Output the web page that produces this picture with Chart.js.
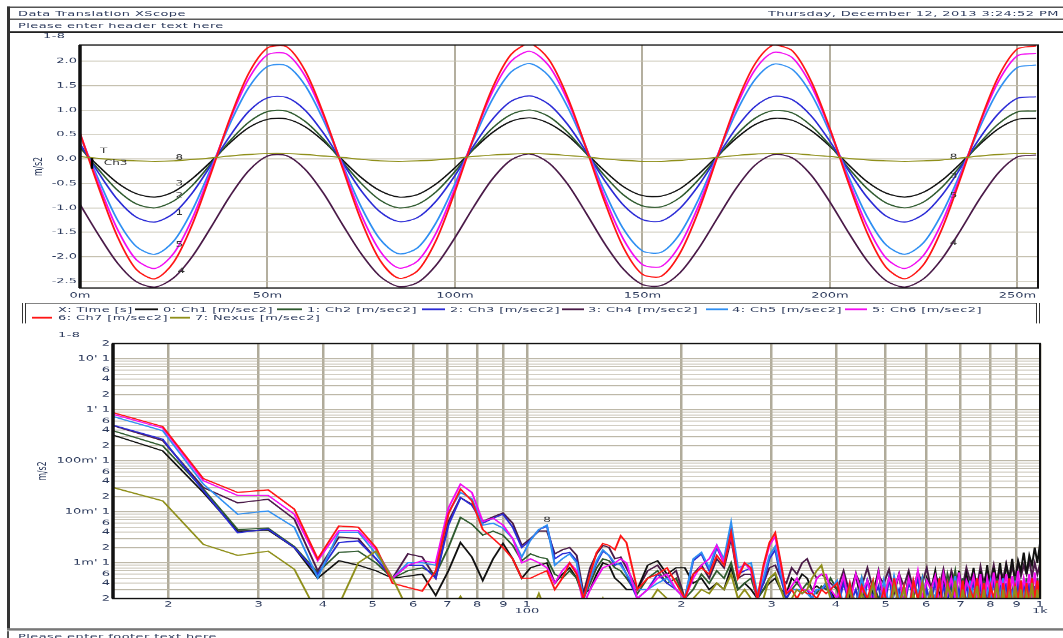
<!DOCTYPE html>
<html><head><meta charset="utf-8">
<script src="https://cdn.jsdelivr.net/npm/chart.js@4.4.0/dist/chart.umd.min.js"></script>
<style>
html,body{margin:0;padding:0;background:#fff;overflow:hidden;width:1063px;height:638px;}
#page{position:absolute;left:0;top:0;width:1063px;height:1064px;transform:scaleY(0.6);transform-origin:0 0;font-family:"DejaVu Sans",sans-serif;font-size:13px;color:#2c3a5c;}
.t{position:absolute;white-space:nowrap;line-height:16px;letter-spacing:0.4px;}
.hl{position:absolute;left:7px;right:0;height:0;}
canvas{position:absolute;left:0;}
.lg{position:absolute;height:0;border-top:3px solid;}
</style></head>
<body><div id="page">
<div class="hl" style="top:11px;border-top:2px solid #2a2a2a"></div>
<div class="t" style="left:18px;top:15px">Data Translation XScope</div>
<div class="t" style="left:768px;top:15px">Thursday, December 12, 2013 3:24:52 PM</div>
<div class="hl" style="top:31px;border-top:2px solid #333"></div>
<div class="t" style="left:18px;top:34.5px">Please enter header text here</div>
<div class="hl" style="top:52px;border-top:3px solid #222"></div>
<div style="position:absolute;left:7px;top:11px;height:1037px;border-left:3px solid #333"></div>
<div class="t" style="left:43px;top:51px">1-8</div>
<canvas id="topChart" width="1063" height="460" style="top:56px"></canvas>
<div style="position:absolute;left:22px;top:505px;width:1018px;height:34px;box-sizing:border-box;border:1px solid #333;border-left:4px double #333;border-right:4px double #333"></div>
<div class="t" style="left:58px;top:507.5px">X: Time [s]</div>
<div class="lg" style="left:135px;top:514px;width:23px;border-color:#111111"></div>
<div class="t" style="left:163px;top:507.5px">0: Ch1 [m/sec2]</div>
<div class="lg" style="left:277px;top:514px;width:25px;border-color:#2e5a2e"></div>
<div class="t" style="left:307px;top:507.5px">1: Ch2 [m/sec2]</div>
<div class="lg" style="left:422px;top:514px;width:23px;border-color:#2b2bd6"></div>
<div class="t" style="left:450px;top:507.5px">2: Ch3 [m/sec2]</div>
<div class="lg" style="left:562px;top:514px;width:22px;border-color:#4a1a48"></div>
<div class="t" style="left:588px;top:507.5px">3: Ch4 [m/sec2]</div>
<div class="lg" style="left:706px;top:514px;width:22px;border-color:#2f8ff2"></div>
<div class="t" style="left:732px;top:507.5px">4: Ch5 [m/sec2]</div>
<div class="lg" style="left:845px;top:514px;width:22px;border-color:#f20cf2"></div>
<div class="t" style="left:872px;top:507.5px">5: Ch6 [m/sec2]</div>
<div class="lg" style="left:32px;top:528px;width:20px;border-color:#ff1515"></div>
<div class="t" style="left:58px;top:521.5px">6: Ch7 [m/sec2]</div>
<div class="lg" style="left:170px;top:528px;width:20px;border-color:#8f8f1a"></div>
<div class="t" style="left:195px;top:521.5px">7: Nexus [m/sec2]</div>
<div class="t" style="left:58px;top:550px">1-8</div>
<canvas id="specChart" width="1063" height="495" style="top:545px"></canvas>
<div class="hl" style="top:1047px;border-top:4px solid #777"></div>
<div style="position:absolute;left:7px;top:1052px;height:14px;border-left:2px solid #555"></div>
<div class="t" style="left:18px;top:1053px">Please enter footer text here</div>
</div>
<script>
// ---------- Time-domain data (ms, m/s2) ----------
const timeMs = [0,5,10,15,20,25,30,35,40,45,50,55,60,65,70,75,80,85,90,95,100,105,110,115,120,125,130,135,140,145,150,155,160,165,170,175,180,185,190,195,200,205,210,215,220,225,230,235,240,245,250,255];
const tCh1 = [0.23,-0.15,-0.49,-0.71,-0.78,-0.67,-0.40,-0.05,0.33,0.64,0.81,0.82,0.66,0.36,-0.02,-0.38,-0.65,-0.78,-0.73,-0.51,-0.18,0.20,0.54,0.77,0.84,0.73,0.48,0.12,-0.25,-0.57,-0.75,-0.76,-0.61,-0.31,0.06,0.42,0.70,0.83,0.79,0.58,0.26,-0.12,-0.47,-0.70,-0.78,-0.68,-0.43,-0.08,0.30,0.62,0.81,0.83];
const tCh2 = [0.24,-0.22,-0.64,-0.92,-1.00,-0.86,-0.54,-0.09,0.37,0.75,0.97,0.98,0.77,0.40,-0.06,-0.50,-0.84,-1.00,-0.93,-0.67,-0.26,0.21,0.63,0.91,1.00,0.87,0.55,0.11,-0.35,-0.74,-0.96,-0.98,-0.79,-0.42,0.04,0.49,0.83,0.99,0.94,0.68,0.28,-0.19,-0.61,-0.90,-1.00,-0.88,-0.57,-0.13,0.33,0.72,0.96,0.98];
const tCh3 = [0.31,-0.29,-0.83,-1.19,-1.29,-1.11,-0.69,-0.12,0.47,0.97,1.25,1.26,1.00,0.52,-0.07,-0.65,-1.08,-1.28,-1.20,-0.86,-0.34,0.27,0.81,1.18,1.29,1.12,0.71,0.15,-0.45,-0.95,-1.24,-1.27,-1.01,-0.54,0.05,0.63,1.07,1.28,1.21,0.88,0.36,-0.24,-0.79,-1.17,-1.29,-1.13,-0.73,-0.17,0.43,0.93,1.24,1.27];
const tCh4 = [-0.93,-1.56,-2.13,-2.51,-2.62,-2.43,-1.99,-1.39,-0.76,-0.24,0.06,0.07,-0.21,-0.71,-1.34,-1.94,-2.40,-2.61,-2.53,-2.17,-1.61,-0.98,-0.41,-0.02,0.10,-0.08,-0.51,-1.11,-1.74,-2.26,-2.57,-2.59,-2.33,-1.83,-1.21,-0.60,-0.13,0.09,0.02,-0.33,-0.88,-1.51,-2.09,-2.49,-2.62,-2.45,-2.03,-1.44,-0.81,-0.28,0.04,0.08];
const tCh5 = [0.47,-0.43,-1.25,-1.79,-1.95,-1.68,-1.04,-0.18,0.72,1.46,1.89,1.91,1.51,0.78,-0.11,-0.98,-1.64,-1.94,-1.82,-1.30,-0.51,0.40,1.22,1.78,1.95,1.70,1.07,0.22,-0.68,-1.44,-1.88,-1.91,-1.53,-0.82,0.07,0.95,1.62,1.94,1.83,1.33,0.54,-0.36,-1.19,-1.76,-1.95,-1.71,-1.10,-0.26,0.65,1.41,1.87,1.92];
const tCh6 = [0.52,-0.52,-1.44,-2.06,-2.24,-1.93,-1.21,-0.23,0.80,1.64,2.13,2.15,1.70,0.87,-0.14,-1.14,-1.88,-2.23,-2.09,-1.51,-0.60,0.44,1.37,2.00,2.20,1.91,1.20,0.23,-0.80,-1.65,-2.16,-2.20,-1.76,-0.95,0.06,1.06,1.82,2.18,2.07,1.50,0.60,-0.44,-1.38,-2.03,-2.24,-1.97,-1.28,-0.31,0.72,1.59,2.11,2.16];
const tCh7 = [0.53,-0.59,-1.59,-2.26,-2.45,-2.11,-1.33,-0.28,0.83,1.75,2.27,2.30,1.81,0.91,-0.18,-1.26,-2.07,-2.44,-2.29,-1.66,-0.67,0.44,1.45,2.14,2.35,2.04,1.27,0.22,-0.89,-1.82,-2.36,-2.40,-1.93,-1.06,0.04,1.12,1.94,2.33,2.21,1.59,0.62,-0.50,-1.52,-2.22,-2.45,-2.16,-1.41,-0.36,0.75,1.69,2.25,2.31];
const tNexus = [0.05,0.01,-0.02,-0.04,-0.05,-0.04,-0.01,0.02,0.06,0.09,0.11,0.11,0.09,0.06,0.03,-0.01,-0.04,-0.05,-0.04,-0.02,0.01,0.05,0.08,0.10,0.11,0.10,0.07,0.04,0.00,-0.03,-0.05,-0.05,-0.03,0.00,0.03,0.07,0.10,0.11,0.11,0.08,0.05,0.01,-0.02,-0.04,-0.05,-0.04,-0.02,0.02,0.06,0.09,0.11,0.11];
const timeTicks = [0,50,100,150,200,250];
const ampTicks = [-2.5,-2,-1.5,-1,-0.5,0,0.5,1,1.5,2];

// ---------- Spectrum data (Hz, milli m/s2) ----------
const freqHz = [15.6,19.5,23.4,27.3,31.3,35.2,39.1,43.0,46.9,50.8,54.7,58.6,62.5,66.4,70.3,74.2,78.1,82.0,85.9,89.8,93.8,97.7,101.6,105.5,109.4,113.3,117.2,121.1,125.0,128.9,132.8,136.7,140.6,144.5,148.4,152.3,156.3,
164.1,171.9,179.7,187.5,195.3,203.1,210.9,218.8,226.6,234.4,242.2,250.0,257.8,265.6,273.4,281.3,289.1,296.9,304.7,312.5,320.3,328.1,335.9,343.8,351.6,359.4,367.2,375.0,382.8,390.6,
402.3,414.1,425.8,437.5,449.2,460.9,472.7,484.4,496.1,507.8,519.5,531.3,543.0,554.7,566.4,578.1,589.8,601.6,613.3,625.0,636.7,648.4,660.2,671.9,683.6,695.3,707.0,718.8,730.5,742.2,753.9,765.6,777.3,789.1,800.8,812.5,824.2,835.9,847.7,859.4,871.1,882.8,894.5,906.3,918.0,929.7,941.4,953.1,964.8,976.6,988.3,1000.0];
const sCh1 = [320,157,24,4.2,4.4,2.0,0.5,1.1,0.9,0.7,0.5,0.55,0.6,0.23,0.7,2.5,1.3,0.45,1.2,2.4,1.2,0.5,0.8,0.9,1.0,0.4,0.6,0.8,0.5,0.25,0.3,0.6,1.0,0.9,0.5,0.4,0.3,
0.3,0.9,1.1,0.6,0.8,0.8,0.4,0.5,0.3,0.4,0.3,0.8,0.3,0.4,0.3,0.2,0.3,0.4,0.5,0.3,0.25,0.5,0.4,0.6,0.5,0.3,0.35,0.3,0.4,0.3,
0.15,0.5,0.2,0.6,0.15,0.45,0.25,0.7,0.15,0.5,0.3,0.6,0.15,0.55,0.2,0.65,0.15,0.5,0.3,0.7,0.2,0.55,0.15,0.6,0.25,0.7,0.2,0.6,0.3,0.8,0.2,0.7,0.3,0.9,0.25,0.8,0.4,1.0,0.3,0.9,0.5,1.2,0.4,1.1,0.7,1.6,0.6,1.4,0.9,2.0,1.0,2.4];
const sCh2 = [390,197,28,4.5,4.8,2.1,0.65,1.6,1.7,1.0,0.5,0.7,0.8,0.6,2.0,7.8,5.7,3.5,4.2,3.5,2.2,1.1,1.5,1.3,1.2,0.6,0.5,0.7,0.5,0.2,0.4,0.8,1.2,1.1,0.8,0.7,0.5,
0.25,0.5,0.7,0.4,0.5,0.2,0.3,0.6,0.4,0.7,0.5,1.0,0.3,0.4,0.5,0.2,0.3,0.5,0.6,0.3,0.2,0.3,0.4,0.3,0.4,0.3,0.25,0.35,0.3,0.5,
0.3,0.1,0.35,0.15,0.5,0.12,0.4,0.2,0.3,0.1,0.45,0.15,0.35,0.1,0.4,0.2,0.5,0.12,0.3,0.2,0.45,0.15,0.6,0.3,0.7,0.2,0.5,0.15,0.4,0.1,0.35,0.2,0.45,0.15,0.4,0.1,0.5,0.2,0.4,0.15,0.35,0.25,0.55,0.15,0.45,0.2,0.5,0.15,0.4,0.25,0.5,0.2];
const sCh3 = [500,266,26,3.9,4.6,2.0,0.6,2.5,2.7,1.2,0.5,0.9,0.9,0.5,5.5,19,13.5,6.0,7.5,9.0,5.0,2.0,2.8,4.5,5.2,1.2,1.5,1.6,1.1,0.2,0.5,1.0,1.7,1.4,0.9,1.0,0.6,
0.2,0.3,0.6,0.4,0.3,0.2,1.1,1.5,0.7,2.0,1.0,5.0,0.6,0.7,0.8,0.2,0.4,1.2,1.8,0.5,0.2,0.3,0.3,0.25,0.3,0.2,0.3,0.3,0.35,0.25,
0.12,0.4,0.15,0.3,0.1,0.45,0.2,0.35,0.1,0.5,0.15,0.3,0.12,0.4,0.25,0.5,0.1,0.3,0.15,0.45,0.1,0.35,0.2,0.5,0.12,0.3,0.15,0.4,0.1,0.45,0.2,0.35,0.1,0.3,0.15,0.5,0.12,0.35,0.2,0.4,0.1,0.3,0.15,0.45,0.12,0.35,0.2,0.4,0.1,0.35,0.15,0.3];
const sCh4 = [490,250,30,15,17.7,7.2,0.7,3.2,3.0,1.2,0.5,1.5,1.3,0.5,6.5,19,14,6.5,8.0,9.5,6.0,2.2,3.0,4.2,4.2,1.5,1.8,2.0,1.4,0.25,0.8,1.5,2.2,2.0,1.2,1.3,0.8,
0.3,0.7,0.9,0.5,0.7,0.2,0.6,0.9,0.5,1.2,0.8,3.0,0.5,0.6,0.6,0.25,0.4,0.8,0.9,0.5,0.4,0.8,0.6,1.0,1.2,0.7,0.5,0.6,0.5,0.4,
0.3,0.7,0.25,0.6,0.35,0.8,0.3,0.55,0.4,0.75,0.25,0.6,0.35,0.7,0.3,0.65,0.4,0.8,0.3,0.6,0.35,0.75,0.3,0.7,0.4,0.6,0.35,0.8,0.45,0.7,0.35,0.85,0.4,0.7,0.45,0.9,0.4,0.75,0.5,0.95,0.45,0.85,0.5,1.0,0.55,0.9,0.6,1.1,0.55,1.0,0.6,0.95];
const sCh5 = [740,390,35,9.0,10.4,5.0,0.51,4.0,4.0,1.5,0.5,1.0,1.0,0.9,10,24,18,5.5,6.0,4.8,3.0,1.3,2.8,4.5,5.5,0.9,1.2,1.5,1.0,0.2,0.5,1.1,1.8,1.4,1.0,0.9,0.6,
0.3,0.3,0.4,0.5,0.3,0.2,1.2,1.6,0.8,2.2,1.2,6.2,0.8,0.9,1.0,0.25,0.5,1.4,2.1,0.6,0.25,0.3,0.3,0.3,0.25,0.2,0.3,0.3,0.4,0.3,
0.45,0.15,0.4,0.12,0.5,0.2,0.35,0.1,0.45,0.15,0.55,0.2,0.35,0.12,0.45,0.25,0.5,0.15,0.3,0.2,0.5,0.12,0.4,0.2,0.55,0.15,0.35,0.1,0.45,0.2,0.5,0.15,0.35,0.25,0.45,0.12,0.4,0.2,0.5,0.15,0.35,0.2,0.45,0.12,0.4,0.2,0.35,0.15,0.45,0.2,0.4,0.15];
const sCh6 = [820,440,41,21,21,9.0,1.1,4.3,4.3,1.8,0.5,0.9,1.1,1.0,12,35,24,6.5,7.5,5.5,3.0,1.0,1.2,1.0,0.8,0.4,0.7,1.0,0.7,0.15,0.3,0.5,0.8,0.9,1.0,1.2,1.0,
0.2,0.3,0.5,0.6,0.3,0.2,0.5,0.9,1.2,2.2,1.0,3.5,0.6,1.0,0.7,0.2,0.8,2.2,3.3,0.9,0.25,0.35,0.5,0.3,0.3,0.25,0.5,0.6,0.6,0.3,
0.2,0.55,0.15,0.6,0.25,0.45,0.15,0.65,0.2,0.5,0.3,0.6,0.15,0.5,0.25,0.7,0.2,0.45,0.3,0.55,0.15,0.6,0.25,0.5,0.2,0.65,0.15,0.45,0.3,0.55,0.2,0.6,0.15,0.5,0.25,0.65,0.2,0.5,0.3,0.6,0.2,0.55,0.25,0.7,0.2,0.5,0.3,0.6,0.2,0.65,0.25,0.5];
const sCh7 = [885,470,45,24,27,11.3,1.2,5.3,5.0,2.0,0.4,0.33,0.28,0.7,9.1,28,16.4,4.5,3.0,2.0,1.2,0.5,0.5,0.6,0.7,0.3,0.5,1.0,0.6,0.2,0.6,1.6,2.4,2.2,1.8,3.4,2.5,
0.3,0.5,0.6,0.8,0.4,0.2,0.6,0.8,0.6,1.4,0.9,3.9,0.5,1.0,0.8,0.2,0.9,2.5,3.9,1.0,0.25,0.3,0.2,0.3,0.25,0.25,0.2,0.3,0.25,0.3,
0.4,0.12,0.4,0.1,0.35,0.2,0.45,0.12,0.3,0.1,0.5,0.15,0.35,0.1,0.45,0.2,0.4,0.1,0.3,0.15,0.5,0.1,0.4,0.2,0.35,0.12,0.45,0.1,0.3,0.2,0.5,0.15,0.4,0.1,0.35,0.2,0.45,0.12,0.4,0.15,0.5,0.1,0.35,0.2,0.45,0.12,0.4,0.15,0.5,0.2,0.45,0.15];
const sNexus = [30,16.4,2.3,1.4,1.7,0.75,0.1,0.15,1.0,1.7,0.5,0.12,0.1,0.1,0.1,0.22,0.1,0.1,0.1,0.1,0.1,0.1,0.1,0.25,0.1,0.1,0.1,0.1,0.1,0.1,0.1,0.1,0.2,0.1,0.1,0.1,0.1,
0.1,0.15,0.3,0.2,0.15,0.1,0.2,0.3,0.25,0.4,0.3,0.6,0.2,0.3,0.2,0.1,0.2,0.5,0.64,0.3,0.15,0.2,0.3,0.25,0.3,0.5,0.7,0.9,0.4,0.2,
0.2,0.1,0.3,0.1,0.25,0.15,0.4,0.1,0.2,0.1,0.35,0.15,0.3,0.1,0.25,0.1,0.4,0.15,0.3,0.1,0.2,0.1,0.35,0.2,0.45,0.1,0.3,0.1,0.25,0.15,0.35,0.1,0.3,0.1,0.2,0.15,0.4,0.1,0.3,0.1,0.25,0.15,0.35,0.1,0.3,0.1,0.25,0.15,0.4,0.1,0.3,0.1];
const specXTicks = [20,30,40,50,60,70,80,90,100,200,300,400,500,600,700,800,900,1000];
const specXTickLabels = ['2','3','4','5','6','7','8','9',['1','100'],'2','3','4','5','6','7','8','9',['1','1k']];
const specYTicks = [0.0002,0.0003,0.0004,0.0005,0.0006,0.0007,0.0008,0.0009,0.001,0.002,0.003,0.004,0.005,0.006,0.007,0.008,0.009,0.01,0.02,0.03,0.04,0.05,0.06,0.07,0.08,0.09,0.1,0.2,0.3,0.4,0.5,0.6,0.7,0.8,0.9,1,2,3,4,5,6,7,8,9,10,20];
const specYLabelMap = {"20":"2","10":"10' 1","6":"6","4":"4","2":"2","1":"1' 1","0.6":"6","0.4":"4","0.2":"2","0.1":"100m' 1","0.06":"6","0.04":"4","0.02":"2","0.01":"10m' 1","0.006":"6","0.004":"4","0.002":"2","0.001":"1m' 1","0.0006":"6","0.0004":"4","0.0002":"2"};

const seriesNames = ['0: Ch1','1: Ch2','2: Ch3','3: Ch4','4: Ch5','5: Ch6','6: Ch7','7: Nexus'];
const seriesColors = ['#111111','#2e5a2e','#2b2bd6','#4a1a48','#2f8ff2','#f20cf2','#ff1515','#8f8f1a'];
const seriesOrder = [6,5,4,7,3,2,1,0];
const timeSeries = [tCh1,tCh2,tCh3,tCh4,tCh5,tCh6,tCh7,tNexus];
const specSeries = [sCh1,sCh2,sCh3,sCh4,sCh5,sCh6,sCh7,sNexus];

Chart.defaults.font.family = '"DejaVu Sans", sans-serif';
Chart.defaults.font.size = 13;
Chart.defaults.color = '#2c3a5c';

const framePlugin = {
  id: 'frame',
  afterDatasetsDraw(chart, args, opts) {
    const {ctx, chartArea: a} = chart;
    ctx.save();
    ctx.strokeStyle = '#111';
    ctx.lineWidth = 2;
    ctx.strokeRect(a.left, a.top, a.right - a.left, a.bottom - a.top);
    ctx.lineWidth = 3.5;
    ctx.beginPath(); ctx.moveTo(a.left, a.top); ctx.lineTo(a.left, a.bottom); ctx.stroke();
    const xs = chart.scales.x, ys = chart.scales.y;
    ctx.fillStyle = '#333';
    ctx.font = '12px "DejaVu Sans"';
    ctx.textAlign = 'center';
    ctx.textBaseline = 'middle';
    (opts.notes || []).forEach(n => ctx.fillText(n.text, xs.getPixelForValue(n.x), ys.getPixelForValue(n.y)));
    (opts.marks || []).forEach(m => {
      ctx.strokeStyle = '#000'; ctx.lineWidth = 2.5;
      ctx.beginPath();
      ctx.moveTo(xs.getPixelForValue(m.x), ys.getPixelForValue(m.y1));
      ctx.lineTo(xs.getPixelForValue(m.x), ys.getPixelForValue(m.y2));
      ctx.stroke();
    });
    ctx.restore();
  }
};

new Chart(document.getElementById('topChart'), {
  type: 'line',
  data: {
    datasets: timeSeries.map((arr, s) => ({
      label: seriesNames[s],
      data: arr.map((v, i) => ({x: timeMs[i], y: v})),
      borderColor: seriesColors[s],
      order: seriesOrder[s]
    }))
  },
  options: {
    responsive: false, animation: false, devicePixelRatio: 1,
    layout: {padding: {top: 19, right: 25, left: 0, bottom: 0}},
    elements: {point: {radius: 0}, line: {borderWidth: 1.9, tension: 0.3}},
    plugins: {
      legend: {display: false}, tooltip: {enabled: false},
      frame: {
        notes: [
          {x: 6.3, y: 0.16, text: 'T'}, {x: 9.5, y: -0.08, text: 'Ch3'},
          {x: 26.5, y: 0.03, text: '8'}, {x: 26.5, y: -0.5, text: '3'}, {x: 26.5, y: -0.75, text: '2'},
          {x: 26.5, y: -1.1, text: '1'}, {x: 26.5, y: -1.75, text: '5'}, {x: 27, y: -2.3, text: '4'},
          {x: 233, y: 0.04, text: '8'}, {x: 233, y: -0.35, text: '3'}, {x: 233, y: -0.75, text: '5'}, {x: 233, y: -1.72, text: '4'}
        ],
        marks: [{x: 3.2, y1: 0.02, y2: -0.2}]
      }
    },
    scales: {
      x: {
        type: 'linear', min: 0, max: 255.5,
        afterBuildTicks(s) { s.ticks = timeTicks.map(v => ({value: v})); },
        afterFit(s) { s.height = 36; },
        grid: {color: '#b4af9f', lineWidth: 2, drawTicks: false},
        border: {display: false},
        ticks: {padding: 5, maxRotation: 0, autoSkip: false, callback: v => v + 'm'}
      },
      y: {
        min: -2.64, max: 2.33,
        afterBuildTicks(s) { s.ticks = ampTicks.map(v => ({value: v})); },
        afterFit(s) { s.width = 80; },
        grid: {color: '#c6c1b0', lineWidth: 1.6, drawTicks: false},
        border: {display: false},
        ticks: {padding: 3, autoSkip: false, callback: v => Number(v).toFixed(1)},
        title: {display: true, text: 'm/s2', padding: {top: 31, bottom: 0}}
      }
    }
  },
  plugins: [framePlugin]
});

new Chart(document.getElementById('specChart'), {
  type: 'line',
  data: {
    datasets: specSeries.map((arr, s) => ({
      label: seriesNames[s],
      data: arr.map((v, i) => ({x: freqHz[i], y: v / 1000})),
      borderColor: seriesColors[s],
      order: seriesOrder[s]
    }))
  },
  options: {
    responsive: false, animation: false, devicePixelRatio: 1,
    layout: {padding: {top: 27.5, right: 23, left: 0, bottom: 0}},
    elements: {point: {radius: 0}, line: {borderWidth: 2, tension: 0}},
    plugins: {
      legend: {display: false}, tooltip: {enabled: false},
      frame: {notes: [{x: 109.4, y: 0.0068, text: '8'}]}
    },
    scales: {
      x: {
        type: 'logarithmic', min: 15.6, max: 1000,
        afterBuildTicks(s) { s.ticks = specXTicks.map(v => ({value: v})); },
        afterFit(s) { s.height = 42.5; },
        grid: {color: '#b0ab9a', lineWidth: 2.5, drawTicks: false},
        border: {display: false},
        ticks: {padding: 5, maxRotation: 0, autoSkip: false, font: {size: 13, lineHeight: 0.85},
          callback: (v, i) => specXTickLabels[i]}
      },
      y: {
        type: 'logarithmic', min: 0.0002, max: 20,
        afterBuildTicks(s) { s.ticks = specYTicks.map(v => ({value: v})); },
        afterFit(s) { s.width = 113; },
        grid: {color: '#bdb8a8', lineWidth: 1.6, drawTicks: false},
        border: {display: false},
        ticks: {padding: 3, autoSkip: false, callback: v => specYLabelMap[String(v)] || ''},
        title: {display: true, text: 'm/s2', padding: {top: 35, bottom: 0}}
      }
    }
  },
  plugins: [framePlugin]
});
</script>
</body></html>
